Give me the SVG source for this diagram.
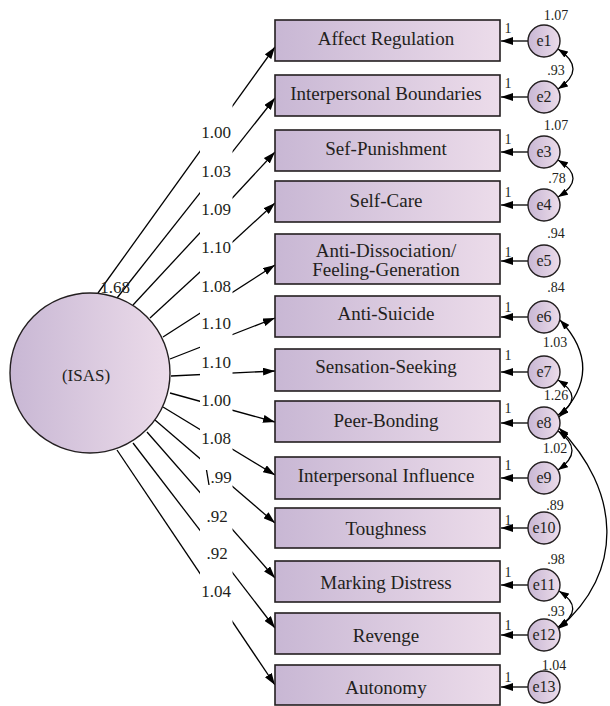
<svg xmlns="http://www.w3.org/2000/svg" width="610" height="706" viewBox="0 0 610 706">
<style>
text{font-family:"Liberation Serif","Times New Roman",serif;fill:#231f20;text-anchor:middle}
.box{fill:url(#g);stroke:#231f20;stroke-width:1.6}
.circ{fill:url(#g);stroke:#231f20;stroke-width:1.4}
.bl{font-size:19px}
.coef{font-size:17px}
.var{font-size:14px}
.one{font-size:14px}
.en{font-size:16px}
.ln{fill:none;stroke:#000;stroke-width:1.3}
.path{marker-end:url(#ah)}
.err{marker-end:url(#ah)}
.cov{marker-start:url(#ac);marker-end:url(#ac)}
</style>
<defs>
<linearGradient id="g" x1="0" y1="0" x2="1" y2="0">
<stop offset="0" stop-color="#c8b7d4"/>
<stop offset="1" stop-color="#ecdcea"/>
</linearGradient>
<marker id="ah" markerWidth="12" markerHeight="8" refX="12" refY="4" orient="auto" markerUnits="userSpaceOnUse">
<path d="M0,0 L12,4 L0,8 z" fill="#000"/>
</marker>
<marker id="ac" markerWidth="10" markerHeight="7" refX="10" refY="3.5" orient="auto-start-reverse" markerUnits="userSpaceOnUse">
<path d="M0,0 L10,3.5 L0,7 z" fill="#000"/>
</marker>
<clipPath id="gap" clipPathUnits="userSpaceOnUse">
<rect x="0" y="0" width="200" height="706"/>
<rect x="232.5" y="0" width="378" height="706"/>
</clipPath>
</defs>
<rect x="0" y="0" width="610" height="706" fill="#fff"/>

<g id="connectors">
<g clip-path="url(#gap)">
<path class="ln path" d="M98,293 L275,47"/>
<path class="ln path" d="M117,298 L275,98"/>
<path class="ln path" d="M133,305 L275,152"/>
<path class="ln path" d="M150,318 L275,203"/>
<path class="ln path" d="M163,337 L275,265"/>
<path class="ln path" d="M170,359 L275,318"/>
<path class="ln path" d="M171,376 L275,371"/>
<path class="ln path" d="M170,393 L275,422"/>
<path class="ln path" d="M163,407 L275,475"/>
<path class="ln path" d="M155,420 L275,523"/>
<path class="ln path" d="M147,432 L275,578"/>
<path class="ln path" d="M133,443 L275,628"/>
<path class="ln path" d="M117,450 L275,685"/>
</g>
<path class="ln" d="M206.5,470 L209,485" stroke-width="1"/>
<path class="ln err" d="M528,41 L501,41"/>
<path class="ln err" d="M528,97 L501,97"/>
<path class="ln err" d="M528,152 L501,152"/>
<path class="ln err" d="M528,205 L501,205"/>
<path class="ln err" d="M528,261 L501,261"/>
<path class="ln err" d="M528,317 L501,317"/>
<path class="ln err" d="M528,372 L501,372"/>
<path class="ln err" d="M528,423 L501,423"/>
<path class="ln err" d="M528,478 L501,478"/>
<path class="ln err" d="M528,528 L501,528"/>
<path class="ln err" d="M528,585 L501,585"/>
<path class="ln err" d="M528,635 L501,635"/>
<path class="ln err" d="M528,687 L501,687"/>
<path class="ln cov" d="M558,49 Q588,69 558,89"/>
<path class="ln cov" d="M558,160 Q588,178.5 558,197"/>
<path class="ln cov" d="M560,320 Q606,369 559,417"/>
<path class="ln cov" d="M558,380 Q586,397.5 558,415"/>
<path class="ln cov" d="M558,431 Q586,450.5 558,470"/>
<path class="ln cov" d="M559,428 C620,490 626,572 558,629"/>
<path class="ln cov" d="M559,591 Q587,609 558,627"/>
<g class="coef">
<text x="216" y="138">1.00</text>
<text x="216" y="177">1.03</text>
<text x="216" y="215">1.09</text>
<text x="216" y="253">1.10</text>
<text x="216" y="292">1.08</text>
<text x="216" y="329">1.10</text>
<text x="216" y="368">1.10</text>
<text x="216" y="406">1.00</text>
<text x="216" y="444">1.08</text>
<text x="221" y="483">.99</text>
<text x="217" y="522">.92</text>
<text x="217" y="559">.92</text>
<text x="216" y="597">1.04</text>
</g>
<g class="one">
<text x="508" y="33">1</text>
<text x="508" y="88">1</text>
<text x="508" y="144">1</text>
<text x="508" y="197">1</text>
<text x="508" y="257">1</text>
<text x="508" y="312">1</text>
<text x="508" y="360">1</text>
<text x="508" y="413">1</text>
<text x="508" y="470">1</text>
<text x="508" y="525">1</text>
<text x="508" y="577">1</text>
<text x="508" y="630">1</text>
<text x="508" y="682">1</text>
</g>
</g>

<g id="ISAS">
<circle class="circ" cx="90" cy="373" r="80"/>
<text class="bl" x="86" y="381" style="font-size:17px">(ISAS)</text>
<text class="coef" x="115" y="293">1.68</text>
</g>

<g id="affect-regulation"><rect class="box" x="275" y="20" width="225" height="41"/><text class="bl" x="386" y="45">Affect Regulation</text></g>
<g id="interpersonal-boundaries"><rect class="box" x="275" y="75" width="225" height="41"/><text class="bl" x="386" y="100">Interpersonal Boundaries</text></g>
<g id="self-punishment"><rect class="box" x="275" y="130" width="225" height="41"/><text class="bl" x="386" y="155">Sef-Punishment</text></g>
<g id="self-care"><rect class="box" x="275" y="181" width="225" height="41"/><text class="bl" x="386" y="207">Self-Care</text></g>
<g id="anti-dissociation"><rect class="box" x="275" y="234" width="225" height="50"/><text class="bl" x="386" y="257">Anti-Dissociation/</text><text class="bl" x="386" y="276">Feeling-Generation</text></g>
<g id="anti-suicide"><rect class="box" x="275" y="296" width="225" height="41"/><text class="bl" x="386" y="320">Anti-Suicide</text></g>
<g id="sensation-seeking"><rect class="box" x="275" y="349" width="225" height="42"/><text class="bl" x="386" y="373">Sensation-Seeking</text></g>
<g id="peer-bonding"><rect class="box" x="275" y="401" width="225" height="41"/><text class="bl" x="386" y="427">Peer-Bonding</text></g>
<g id="interpersonal-influence"><rect class="box" x="275" y="457" width="225" height="42"/><text class="bl" x="386" y="482">Interpersonal Influence</text></g>
<g id="toughness"><rect class="box" x="275" y="508" width="225" height="40"/><text class="bl" x="386" y="535">Toughness</text></g>
<g id="marking-distress"><rect class="box" x="275" y="561" width="225" height="41"/><text class="bl" x="386" y="589">Marking Distress</text></g>
<g id="revenge"><rect class="box" x="275" y="613" width="225" height="41"/><text class="bl" x="386" y="642">Revenge</text></g>
<g id="autonomy"><rect class="box" x="275" y="665" width="225" height="40"/><text class="bl" x="386" y="694">Autonomy</text></g>

<g id="e1"><circle class="circ" cx="544" cy="41" r="16"/><text class="en" x="544" y="46">e1</text><text class="var" x="556" y="20">1.07</text></g>
<g id="e2"><circle class="circ" cx="544" cy="97" r="16"/><text class="en" x="544" y="102">e2</text><text class="var" x="556" y="75">.93</text></g>
<g id="e3"><circle class="circ" cx="544" cy="152" r="16"/><text class="en" x="544" y="157">e3</text><text class="var" x="556" y="130">1.07</text></g>
<g id="e4"><circle class="circ" cx="544" cy="205" r="16"/><text class="en" x="544" y="210">e4</text><text class="var" x="557" y="183">.78</text></g>
<g id="e5"><circle class="circ" cx="544" cy="261" r="16"/><text class="en" x="544" y="266">e5</text><text class="var" x="556" y="238">.94</text></g>
<g id="e6"><circle class="circ" cx="544" cy="317" r="16"/><text class="en" x="544" y="322">e6</text><text class="var" x="556" y="292">.84</text></g>
<g id="e7"><circle class="circ" cx="544" cy="372" r="16"/><text class="en" x="544" y="377">e7</text><text class="var" x="555" y="347">1.03</text></g>
<g id="e8"><circle class="circ" cx="544" cy="423" r="16"/><text class="en" x="544" y="428">e8</text><text class="var" x="556" y="400">1.26</text></g>
<g id="e9"><circle class="circ" cx="544" cy="478" r="16"/><text class="en" x="544" y="483">e9</text><text class="var" x="555" y="453">1.02</text></g>
<g id="e10"><circle class="circ" cx="544" cy="528" r="16"/><text class="en" x="544" y="533">e10</text><text class="var" x="555" y="510">.89</text></g>
<g id="e11"><circle class="circ" cx="544" cy="585" r="16"/><text class="en" x="544" y="590">e11</text><text class="var" x="556" y="564">.98</text></g>
<g id="e12"><circle class="circ" cx="544" cy="635" r="16"/><text class="en" x="544" y="640">e12</text><text class="var" x="556" y="616">.93</text></g>
<g id="e13"><circle class="circ" cx="544" cy="687" r="16"/><text class="en" x="544" y="692">e13</text><text class="var" x="554" y="670">1.04</text></g>
</svg>
